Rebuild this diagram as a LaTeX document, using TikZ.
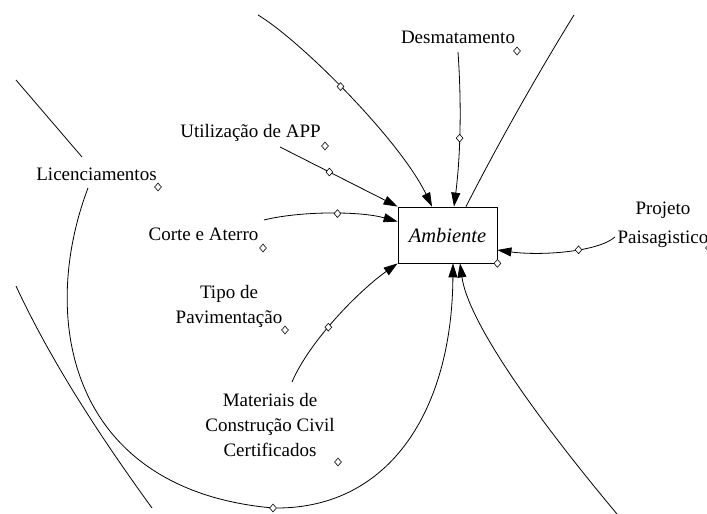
\documentclass[tikz,border=0pt]{standalone}
\usepackage{fontspec}
\setmainfont{Liberation Serif}
\usetikzlibrary{arrows.meta,shapes.geometric,calc}

\begin{document}
\begin{tikzpicture}[x=1pt,y=-1pt,line width=0.8pt,>={Triangle[length=14pt,width=9pt]}]
  \tikzstyle{nivel}=[rectangle,draw,minimum width=99pt,minimum height=56pt,inner sep=0pt,
    font=\fontsize{20.5}{24}\selectfont\itshape]
  \tikzstyle{var}=[inner sep=0pt,align=center,anchor=base,font=\fontsize{19}{25}\selectfont]
  \tikzstyle{losango}=[diamond,draw,fill=white,line width=0.6pt,inner sep=0pt,
    minimum width=7pt,minimum height=8pt]
  \tikzstyle{link}=[->]

  \useasboundingbox (0,0) rectangle (707,514);

  % nivel central
  \node [nivel] (amb) at (447.5,235) {Ambiente};
  \node [losango] (ambd) at (amb.south east) {};

  % variaveis (base = linha de base da ultima linha)
  \node [var] (des)   at (458,43)    {Desmatamento};
  \node [var] (app)   at (250.5,137) {Utilização de APP};
  \node [var] (lic)   at (96.5,180)  {Licenciamentos};
  \node [var] (corte) at (203.5,240) {Corte e Aterro};
  \node [var] (tipo)  at (229,323)   {Tipo de\\Pavimentação};
  \node [var] (mat)   at (270,456)   {Materiais de\\Construção Civil\\Certificados};
  \node [var,font=\fontsize{19}{29}\selectfont] (proj) at (663,243) {Projeto\\Paisagistico};

  \node [losango] (desd)   at ($(des.base)+(59,8)$)     {};
  \node [losango] (appd)   at ($(app.base)+(74.5,9)$)   {};
  \node [losango] (licd)   at ($(lic.base)+(61.5,7)$)   {};
  \node [losango] (corted) at ($(corte.base)+(59.5,8)$) {};
  \node [losango] (tipod)  at ($(tipo.base)+(56,7)$)    {};
  \node [losango] (matd)   at ($(mat.base)+(68,6)$)     {};
  \node [losango] (projd)  at ($(proj.base)+(46,5)$)    {};

  % pontas soltas
  \coordinate (topo1) at (258,15);
  \coordinate (topo2) at (574,15);
  \coordinate (baixo) at (617,514);
  \coordinate (esq1a) at (16,80);
  \coordinate (esq1b) at (82,157);
  \coordinate (esq2a) at (16,286);
  \coordinate (esq2b) at (152,508);

  % ligacoes
  \draw [link] (topo1) .. controls (300,40) and (400,140) ..
      node [losango,pos=.46] (v1) {} ($(amb.north)+(-15.5,0)$);
  \draw [link] ($(des.base)+(0,9)$) .. controls (462,110) and (460,160) ..
      node [losango,pos=.53] (v2) {} ($(amb.north)+(6.5,0)$);
  \draw ($(amb.north)+(18.5,0)$) .. controls (500,140) and (540,70) .. (topo2);
  \draw [link] ($(app.base)+(29.5,10)$) -- node [losango,pos=.42] (v3) {} (amb.north west);
  \draw [link] ($(corte.base)+(60.5,-20)$) .. controls (300,211) and (360,211) ..
      node [losango,pos=.55] (v4) {} ($(amb.north west)+(0,15)$);
  \draw [link] ($(proj.base)+(-48,-6)$) .. controls (598,252) and (540,256) ..
      node [losango,pos=.4] (v5) {} ($(amb.east)+(0,15)$);
  \draw [link] ($(mat.base)+(22,-74)$) .. controls (310,340) and (360,290) ..
      node [losango,pos=.42] (v6) {} (amb.south west);
  \draw ($(lic.base)+(-8.5,8)$) .. controls (38,320) and (70,490) .. (273,508)
      node [losango] (v7) {};
  \draw [link] (v7) .. controls (390,508) and (452,410) .. ($(amb.south)+(5.5,0)$);
  \draw [link] (baixo) .. controls (530,410) and (468,320) .. ($(amb.south)+(12.5,0)$);
  \draw (esq1a) -- (esq1b);
  \draw (esq2a) .. controls (55,370) and (110,450) .. (esq2b);
\end{tikzpicture}
\end{document}
